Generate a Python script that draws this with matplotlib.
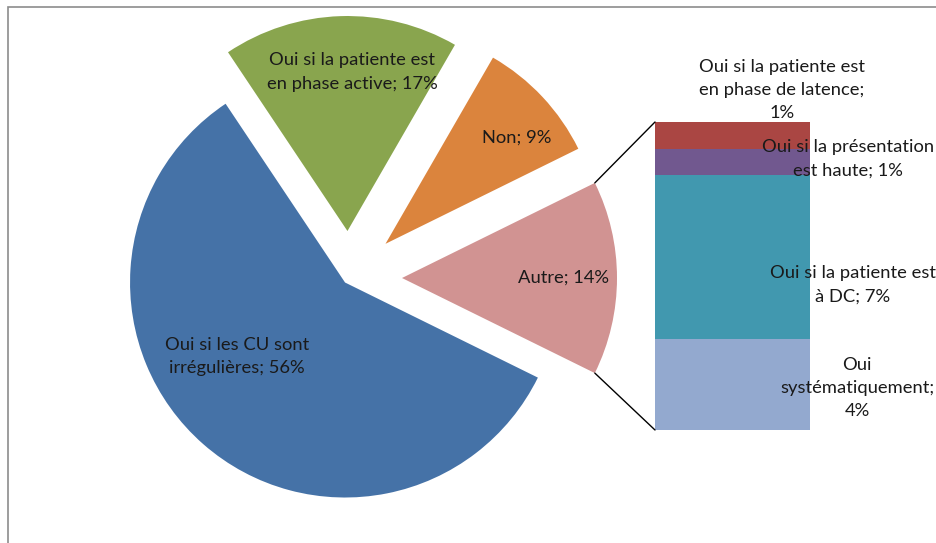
import numpy as np
import matplotlib
matplotlib.use("Agg")
import matplotlib.pyplot as plt
from matplotlib.patches import ConnectionPatch, Rectangle

# Camembert principal
pie_labels = ["Oui si les CU sont\nirrégulières", "Oui si la patiente est\nen phase active", "Non", "Autre"]
pie_values = [56, 17, 9, 14]
pie_colors = ["#4572A7", "#89A54E", "#DB843D", "#D19392"]

# Barre "Autre" (de bas en haut)
bar_labels = ["Oui\nsystématiquement", "Oui si la patiente est\nà DC", "Oui si la présentation\nest haute",
              "Oui si la patiente est\nen phase de latence"]
bar_values = [4.1, 7.4, 1.2, 1.2]
bar_colors = ["#93A9CF", "#4198AF", "#71588F", "#AA4643"]

W, H = 937, 543
fig = plt.figure(figsize=(W / 100, H / 100), dpi=100)
plt.rcParams["font.family"] = ["Lato", "DejaVu Sans"]
FS = 13.2
LS = 1.55

# cadre gris
fig.patches.append(Rectangle((8 / W, -0.2), 1.3, 1 - 7 / H + 0.2, transform=fig.transFigure,
                             fill=False, edgecolor="#8c8c8c", lw=1.2))

ax = fig.add_axes([0, 0, 1, 1])
ax.set_xlim(0, W)
ax.set_ylim(0, H)
ax.set_aspect("equal")
ax.axis("off")

frac_autre = pie_values[3] / sum(pie_values)
start = 360 - 180 * frac_autre
wedges, _ = ax.pie(pie_values, colors=pie_colors, center=(349, 265), radius=215,
                   explode=[6, 47, 50, 53], startangle=start, counterclock=False,
                   wedgeprops=dict(linewidth=0), frame=True)
ax.set_xlim(0, W)
ax.set_ylim(0, H)
ax.axis("off")

# position des etiquettes (fraction du rayon, angle)
lab_pos = [(0.61, 214.4), (0.74, 88.3), (0.785, 38.8), (0.75, 0)]
for w, lab, v, (fr, ang) in zip(wedges, pie_labels, pie_values, lab_pos):
    cx, cy = w.center
    a = np.deg2rad(ang)
    x = cx + fr * w.r * np.cos(a)
    y = cy + fr * w.r * np.sin(a)
    ax.text(x, y, f"{lab}; {v}%", ha="center", va="center", fontsize=FS,
            color="#1a1a1a", linespacing=LS)

# barre de droite
bx = fig.add_axes([655 / W, 113 / H, 155 / W, 308 / H])
bottom = 0
for v, c in zip(bar_values, bar_colors):
    bx.bar(0, v, width=1, bottom=bottom, color=c, linewidth=0)
    bottom += v
bx.set_xlim(-0.5, 0.5)
bx.set_ylim(0, sum(bar_values))
bx.axis("off")

bar_lab_pos = [(1.303, 0.136), (1.277, 0.471), (1.245, 0.88), (0.82, 1.104)]
for lab, v, (px, py) in zip(bar_labels, bar_values, bar_lab_pos):
    sep = ";\n" if ("latence" in lab or "systé" in lab) else "; "
    bx.text(px, py, f"{lab}{sep}{round(v)}%", transform=bx.transAxes, ha="center", va="center",
            fontsize=FS, color="#1a1a1a", linespacing=LS)

# lignes de liaison
aw = wedges[3]
cx, cy = aw.center
t1, t2 = np.deg2rad(aw.theta1), np.deg2rad(aw.theta2)
p_top = (cx + aw.r * np.cos(t2), cy + aw.r * np.sin(t2))
p_bot = (cx + aw.r * np.cos(t1), cy + aw.r * np.sin(t1))
for p, yb in [(p_top, sum(bar_values)), (p_bot, 0)]:
    con = ConnectionPatch(xyA=p, coordsA=ax.transData, xyB=(-0.5, yb), coordsB=bx.transData,
                          color="black", lw=1.0)
    fig.add_artist(con)

fig.savefig("out.png", dpi=100)
